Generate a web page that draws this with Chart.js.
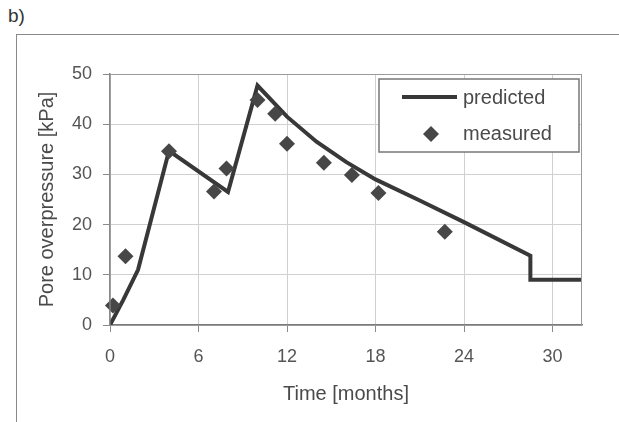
<!DOCTYPE html>
<html>
<head>
<meta charset="utf-8">
<script src="https://cdn.jsdelivr.net/npm/chart.js@4"></script>
<style>
  html, body { margin: 0; padding: 0; background: #fff; }
  #wrap { position: relative; width: 619px; height: 422px; overflow: hidden; }
  #frame { position: absolute; left: 16px; top: 34px; right: -5px; bottom: -5px;
           border-top: 1.5px solid #8a8a8a; border-left: 1.5px solid #8a8a8a; }
  #tag { position: absolute; left: 8px; top: 5px; font: 19px 'Liberation Sans', Arial, sans-serif; color: #333; }
  canvas { position: absolute; left: 0; top: 0; }
</style>
</head>
<body>
<div id="wrap">
  <div id="frame"></div>
  <div id="tag">b)</div>
  <canvas id="grafico" width="619" height="422"></canvas>
</div>
<script>
// predicted curve (months, kPa)
const tempoPrevisto = [0, 0.9, 1.9, 4, 8, 10, 12, 14, 16, 18, 21, 24, 28.5, 28.5, 32];
const pressaoPrevista = [0, 5, 11, 34.7, 26.5, 47.7, 41.5, 36.5, 32.5, 29, 24.8, 20.5, 13.8, 9, 9];
// measured values
const tempoMedido = [0.2, 1.05, 4, 7.05, 7.9, 10, 11.2, 12, 14.5, 16.4, 18.2, 22.7];
const pressaoMedida = [3.9, 13.7, 34.6, 26.6, 31.2, 44.8, 42.1, 36.1, 32.3, 29.9, 26.3, 18.6];
const legendas = ['predicted', 'measured'];

Chart.defaults.font.family = "'Liberation Sans', Arial, sans-serif";
Chart.defaults.color = '#555';

const pares = (xs, ys) => xs.map((x, i) => ({ x: x, y: ys[i] }));

// plot border + legend box drawn on the canvas
const moldura = {
    id: 'moldura',
    afterDraw(chart) {
        const { ctx, chartArea: a } = chart;
        ctx.save();
        ctx.strokeStyle = '#9a9a9a';
        ctx.lineWidth = 1;
        ctx.strokeRect(a.left, a.top + 0.5, a.right - a.left - 0.5, a.bottom - a.top);

        const bx = a.right - 203, by = a.top + 5, bw = 200, bh = 73;
        ctx.fillStyle = '#fff';
        ctx.fillRect(bx, by, bw, bh);
        ctx.strokeStyle = '#777';
        ctx.lineWidth = 1.5;
        ctx.strokeRect(bx, by, bw, bh);

        const dsLinha = chart.data.datasets[0];
        const dsPontos = chart.data.datasets[1];
        ctx.strokeStyle = dsLinha.borderColor;
        ctx.lineWidth = dsLinha.borderWidth;
        ctx.beginPath();
        ctx.moveTo(bx + 23, by + 18);
        ctx.lineTo(bx + 78, by + 18);
        ctx.stroke();

        ctx.fillStyle = dsPontos.backgroundColor;
        Chart.helpers.drawPoint(ctx, { pointStyle: 'rectRot', radius: dsPontos.pointRadius, rotation: 0, borderWidth: 0 }, bx + 52, by + 55);

        ctx.fillStyle = '#4a4a4a';
        ctx.font = "20px 'Liberation Sans', Arial, sans-serif";
        ctx.textBaseline = 'middle';
        ctx.fillText(legendas[0], bx + 84, by + 19);
        ctx.fillText(legendas[1], bx + 84, by + 55);
        ctx.restore();
    }
};

new Chart(document.getElementById('grafico'), {
    type: 'scatter',
    data: {
        datasets: [{
            label: legendas[0],
            data: pares(tempoPrevisto, pressaoPrevista),
            showLine: true,
            borderColor: '#383838',
            borderWidth: 4,
            borderJoinStyle: 'miter',
            pointRadius: 0,
            tension: 0,
            order: 2
        }, {
            label: legendas[1],
            data: pares(tempoMedido, pressaoMedida),
            pointStyle: 'rectRot',
            pointRadius: 8,
            backgroundColor: '#474747',
            borderWidth: 0,
            clip: false,
            order: 1
        }]
    },
    options: {
        responsive: false,
        animation: false,
        layout: { padding: { top: 74, right: 37, left: 0, bottom: 0 } },
        plugins: { legend: { display: false }, tooltip: { enabled: false } },
        scales: {
            x: {
                min: 0, max: 32,
                ticks: { stepSize: 6, includeBounds: false, padding: 14, font: { size: 18 }, color: '#555' },
                grid: { color: '#d0d0d0', tickColor: '#8a8a8a', tickLength: 7 },
                border: { color: '#7a7a7a', width: 1.5 },
                title: { display: true, text: 'Time [months]', font: { size: 20 }, color: '#4a4a4a', padding: { top: 0, bottom: 16 } },
                afterFit(s) { s.height = 97; }
            },
            y: {
                min: 0, max: 50,
                ticks: { stepSize: 10, padding: 11, font: { size: 18 }, color: '#555' },
                grid: { color: '#d0d0d0', tickColor: '#8a8a8a', tickLength: 7 },
                border: { color: '#7a7a7a', width: 1.5 },
                title: { display: true, text: 'Pore overpressure [kPa]', font: { size: 20 }, color: '#4a4a4a', padding: { top: 35, bottom: 0 } },
                afterFit(s) { s.width = 110; }
            }
        }
    },
    plugins: [moldura]
});
</script>
</body>
</html>
